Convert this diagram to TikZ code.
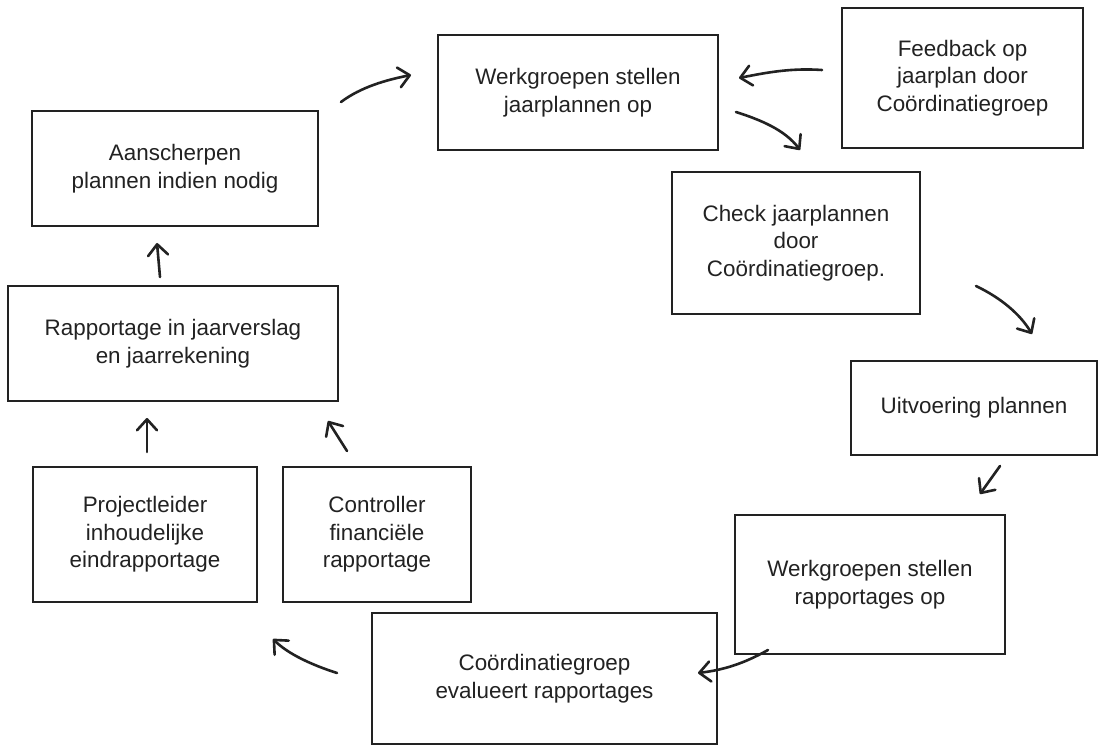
\documentclass[tikz,border=0pt]{standalone}
\usepackage{fontspec}
\setmainfont{Liberation Sans}
\usetikzlibrary{arrows.meta,calc}
\definecolor{ink}{HTML}{222222}
\begin{document}
\begin{tikzpicture}[x=1pt,y=-1pt,
  box/.style={draw=ink, line width=2pt, inner sep=0pt, align=center, text=ink,
    font=\fontsize{22.4}{27.5}\selectfont},
  conn/.style={draw=ink, line width=2.6pt, line cap=round,
    -{Straight Barb[length=11pt,width=20pt,line cap=round,line join=round]}}]
\useasboundingbox (0,0) rectangle (1114,754);
\fill[white] (0,0) rectangle (1114,754);

\node[box, minimum width=280pt, minimum height=115pt] (w1) at (578,92.5) {Werkgroepen stellen\\jaarplannen op};
\node[box, minimum width=241pt, minimum height=140pt] (fb) at (962.5,78) {Feedback op\\jaarplan door\\Coördinatiegroep};
\node[box, minimum width=286pt, minimum height=115pt] (aan) at (175,168.5) {Aanscherpen\\plannen indien nodig};
\node[box, minimum width=248pt, minimum height=142pt] (chk) at (796,243) {Check jaarplannen\\door\\Coördinatiegroep.};
\node[box, minimum width=330pt, minimum height=115pt] (rap) at (173,343.5) {Rapportage in jaarverslag\\en jaarrekening};
\node[box, minimum width=246pt, minimum height=94pt] (uit) at (974,408) {Uitvoering plannen};
\node[box, minimum width=224pt, minimum height=135pt] (pro) at (145,534.5) {Projectleider\\inhoudelijke\\eindrapportage};
\node[box, minimum width=188pt, minimum height=135pt] (con) at (377,534.5) {Controller\\financiële\\rapportage};
\node[box, minimum width=270pt, minimum height=139pt] (w2) at (870,584.5) {Werkgroepen stellen\\rapportages op};
\node[box, minimum width=345pt, minimum height=131pt] (coe) at (544.5,678.5) {Coördinatiegroep\\evalueert rapportages};

\coordinate (a1s) at ($(aan.north east)+(22,-8)$);
\coordinate (a1e) at ($(w1.west)+(-26,-17.5)$);
\coordinate (a2s) at ($(fb.west)+(-19,-8)$);
\coordinate (a2e) at ($(w1.east)+(20,-14.5)$);
\coordinate (a3s) at ($(w1.east)+(17,19.5)$);
\coordinate (a3e) at ($(chk.north)+(4,-21)$);
\coordinate (a4s) at ($(chk.south east)+(55,-29)$);
\coordinate (a4e) at ($(uit.north)+(58,-26)$);
\coordinate (a5s) at ($(uit.south)+(26,10)$);
\coordinate (a5e) at ($(w2.north)+(110,-20)$);
\coordinate (a6s) at ($(w2.south west)+(34,-5)$);
\coordinate (a6e) at ($(coe.east)+(-20,-5.5)$);
\coordinate (a7s) at ($(coe.west)+(-34,-5.5)$);
\coordinate (a7e) at ($(pro.south east)+(15,36)$);
\coordinate (a8s) at ($(pro.north)+(2,-14)$);
\coordinate (a8e) at ($(rap.south)+(-26,16)$);
\coordinate (a9s) at ($(con.north)+(-30,-15)$);
\coordinate (a9e) at ($(rap.south east)+(-11,19)$);
\coordinate (a10s) at ($(rap.north)+(-13,-8)$);
\coordinate (a10e) at ($(aan.south)+(-18,16)$);

\draw[conn] (a1s) .. controls +(20,-15) and +(-25,5) .. (a1e);
\draw[conn] (a2s) .. controls +(-30,-2) and +(30,-6) .. (a2e);
\draw[conn] (a3s) .. controls +(25,8) and +(-15,-20) .. (a3e);
\draw[conn] (a4s) .. controls +(25,12) and +(-12,-20) .. (a4e);
\draw[conn] (a5s) -- (a5e);
\draw[conn] (a6s) .. controls +(-25,14) and +(25,-3) .. (a6e);
\draw[conn] (a7s) .. controls +(-25,-8) and +(15,15) .. (a7e);
\draw[conn] (a8s) -- (a8e);
\draw[conn] (a9s) -- (a9e);
\draw[conn] (a10s) -- (a10e);
\end{tikzpicture}
\end{document}
